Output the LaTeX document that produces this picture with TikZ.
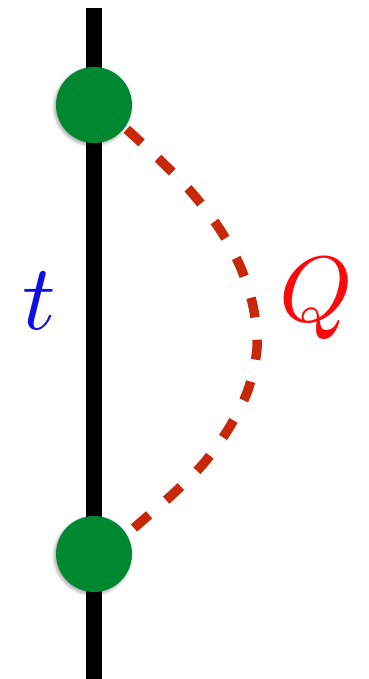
\documentclass[tikz,border=0pt]{standalone}
\usetikzlibrary{shadows.blur}
\definecolor{vgreen}{RGB}{0,136,48}
\definecolor{arcred}{RGB}{200,40,10}
\definecolor{tblue}{RGB}{15,15,225}
\definecolor{qred}{RGB}{250,10,10}
\tikzset{
  vert/.style={circle, fill=vgreen, minimum size=76pt, inner sep=0pt,
    blur shadow={shadow xshift=-1.5pt, shadow yshift=-2pt, shadow blur steps=6, shadow opacity=35, shadow blur radius=3pt}},
  qarc/.style={arcred, line width=9.5pt, dash pattern=on 20pt off 22.5pt},
  biglabel/.style={inner sep=0pt, anchor=base, scale=9.3}
}
\begin{document}
\begin{tikzpicture}[x=1pt,y=-1pt]
\useasboundingbox (0,0) rectangle (368,679);
\coordinate (ltop) at (94,8);
\coordinate (lbot) at (94,679);
\draw[line width=16pt] (ltop) -- (lbot);
\coordinate (qs) at (134,528);
\coordinate (qe) at (116,120);
\draw[qarc] plot[smooth] coordinates {(qs) (142,521) (174,493) (204,463) (229,428) (248,390) (257,348) (253,306) (240,266) (219,228) (193,194) (164,164) (133,135) (qe)};
\node[vert] (top) at (94,105) {};
\node[vert] (bot) at (94,554) {};
\node[biglabel, text=tblue] (tl) at (39,329) {$t$};
\node[biglabel, text=qred] (ql) at (316,321) {$Q$};
\end{tikzpicture}
\end{document}
